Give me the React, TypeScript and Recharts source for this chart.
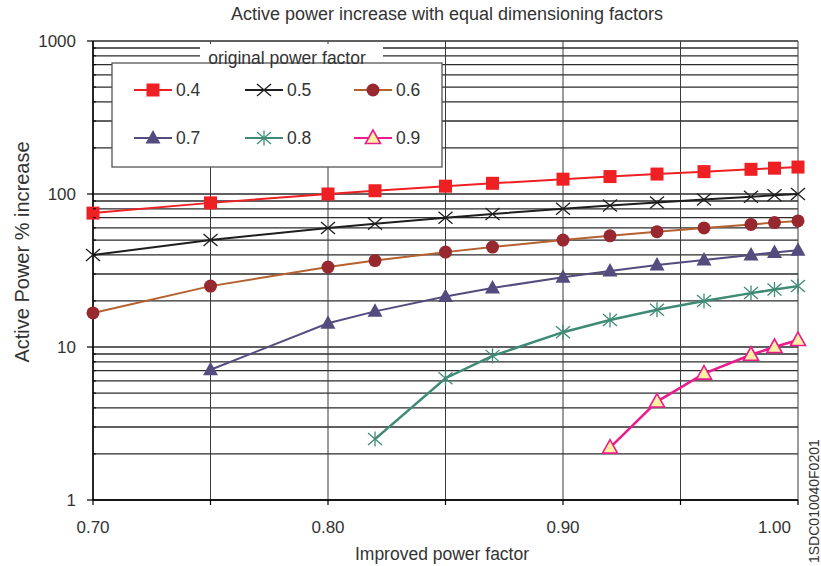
import React from 'react';
import { LineChart, Line, XAxis, YAxis, CartesianGrid } from 'recharts';

const improvedPF = [0.7, 0.75, 0.8, 0.82, 0.85, 0.87, 0.9, 0.92, 0.94, 0.96, 0.98, 0.99, 1.0];
const pf04 = [75, 87.5, 100, 105, 112.5, 117.5, 125, 130, 135, 140, 145, 147.5, 150];
const pf05 = [40, 50, 60, 64, 70, 74, 80, 84, 88, 92, 96, 98, 100];
const pf06 = [16.7, 25, 33.3, 36.7, 41.7, 45, 50, 53.3, 56.7, 60, 63.3, 65, 66.7];
const pf07 = [null, 7.1, 14.3, 17.1, 21.4, 24.3, 28.6, 31.4, 34.3, 37.1, 40, 41.4, 42.9];
const pf08 = [null, null, null, 2.5, 6.25, 8.75, 12.5, 15, 17.5, 20, 22.5, 23.75, 25];
const pf09 = [null, null, null, null, null, null, null, 2.2, 4.4, 6.7, 8.9, 10, 11.1];

const xTicks = [0.7, 0.75, 0.8, 0.85, 0.9, 0.95, 1.0];
const xTickLabels = ['0.70', '', '0.80', '', '0.90', '', '1.00'];
const yTicks = [1, 2, 3, 4, 5, 6, 7, 8, 9, 10, 20, 30, 40, 50, 60, 70, 80, 90, 100, 200, 300, 400, 500, 600, 700, 800, 900, 1000];
const yMajorTicks = [1, 10, 100, 1000];
const yTickLabels = ['1', '10', '100', '1000'];

const titleText = 'Active power increase with equal dimensioning factors';
const xAxisTitle = 'Improved power factor';
const yAxisTitle = 'Active Power % increase';
const legendTitle = 'original power factor';
const docCode = '1SDC010040F0201';

const series = [
  { key: 'pf04', name: '0.4', values: pf04, line: '#ee2024', mark: '#ee2024', fill: '#ee2024', shape: 'square', width: 2 },
  { key: 'pf05', name: '0.5', values: pf05, line: '#1e1e1e', mark: '#1e1e1e', fill: 'none', shape: 'cross', width: 2 },
  { key: 'pf06', name: '0.6', values: pf06, line: '#b4602f', mark: '#97282f', fill: '#97282f', shape: 'circle', width: 2 },
  { key: 'pf07', name: '0.7', values: pf07, line: '#544c7e', mark: '#544c7e', fill: '#544c7e', shape: 'triangle', width: 2 },
  { key: 'pf08', name: '0.8', values: pf08, line: '#3f8a76', mark: '#3f8a76', fill: 'none', shape: 'asterisk', width: 2.5 },
  { key: 'pf09', name: '0.9', values: pf09, line: '#eb1c8c', mark: '#eb1c8c', fill: '#fff1a4', shape: 'triangle', width: 2.5 },
];

const data = improvedPF.map((x, i) => {
  const row: any = { x };
  series.forEach((s) => {
    row[s.key] = s.values[i];
  });
  return row;
});

const FONT = '"Liberation Sans", Arial, Helvetica, sans-serif';
const TXT = '#333';

function Marker({ shape, cx, cy, mark, fill }: any) {
  if (shape === 'square') {
    return <rect x={cx - 6.5} y={cy - 6.5} width={13} height={13} fill={fill} stroke="none" />;
  }
  if (shape === 'cross') {
    return (
      <g stroke={mark} strokeWidth={1.3}>
        <line x1={cx - 7} y1={cy - 6} x2={cx + 7} y2={cy + 6} />
        <line x1={cx - 7} y1={cy + 6} x2={cx + 7} y2={cy - 6} />
      </g>
    );
  }
  if (shape === 'circle') {
    return <circle cx={cx} cy={cy} r={6.5} fill={fill} stroke="none" />;
  }
  if (shape === 'triangle') {
    const stroked = fill !== mark;
    return (
      <polygon
        points={`${cx},${cy - 8} ${cx - 7.5},${cy + 5.5} ${cx + 7.5},${cy + 5.5}`}
        fill={fill}
        stroke={stroked ? mark : 'none'}
        strokeWidth={stroked ? 1.6 : 0}
        strokeLinejoin="miter"
      />
    );
  }
  if (shape === 'asterisk') {
    return (
      <g stroke={mark} strokeWidth={1.3}>
        <line x1={cx} y1={cy - 7.5} x2={cx} y2={cy + 7.5} />
        <line x1={cx - 7} y1={cy - 6} x2={cx + 7} y2={cy + 6} />
        <line x1={cx - 7} y1={cy + 6} x2={cx + 7} y2={cy - 6} />
      </g>
    );
  }
  return null;
}

const makeDot = (s: any) => (props: any) => {
  const { cx, cy, index, value } = props;
  if (value === null || value === undefined || cx == null || cy == null || isNaN(cy)) {
    return <g key={`${s.key}-${index}`} />;
  }
  return (
    <g key={`${s.key}-${index}`}>
      <Marker shape={s.shape} cx={cx} cy={cy} mark={s.mark} fill={s.fill} />
    </g>
  );
};

const XTick = (props: any) => {
  const { x, y, payload } = props;
  const idx = xTicks.indexOf(payload.value);
  const label = idx >= 0 ? xTickLabels[idx] : '';
  const isLast = idx === xTicks.length - 1;
  return (
    <g>
      <line x1={x} x2={x} y1={y} y2={y + 5} stroke="#000" strokeWidth={1.2} />
      {label && (
        <text
          x={isLast ? x - 7 : x}
          y={y + 33}
          textAnchor={isLast ? 'end' : 'middle'}
          fontFamily={FONT}
          fontSize={17}
          fill={TXT}
        >
          {label}
        </text>
      )}
    </g>
  );
};

const YTick = (props: any) => {
  const { x, y, payload } = props;
  const idx = yMajorTicks.indexOf(payload.value);
  if (idx >= 0) {
    return (
      <g>
        <line x1={x - 6} x2={x} y1={y} y2={y} stroke="#000" strokeWidth={1.2} />
        <text x={x - 17} y={y} dy="0.36em" textAnchor="end" fontFamily={FONT} fontSize={17} fill={TXT}>
          {yTickLabels[idx]}
        </text>
      </g>
    );
  }
  return (
    <g>
      <line x1={x} x2={x + 3} y1={y} y2={y} stroke="#000" strokeWidth={1} />
    </g>
  );
};

const legendCols = [153, 264, 373];
const legendRows = [90, 138];

export default function App() {
  return (
    <div style={{ position: 'absolute', left: 0, top: 0, width: 821, height: 566, background: '#fff' }}>
      <LineChart width={821} height={566} data={data} margin={{ top: 41, right: 23, bottom: 36, left: 33 }}>
        <CartesianGrid vertical={false} stroke="#2b2b2b" strokeWidth={1.3} />
        <CartesianGrid horizontal={false} stroke="#3a3a3a" strokeWidth={1} />
        <XAxis
          dataKey="x"
          type="number"
          domain={[0.7, 1.0]}
          ticks={xTicks}
          interval={0}
          height={30}
          tickSize={0}
          tickMargin={0}
          tickLine={false}
          axisLine={{ stroke: '#000', strokeWidth: 1.5 }}
          tick={<XTick />}
        />
        <YAxis
          type="number"
          scale="log"
          domain={[1, 1000]}
          ticks={yTicks}
          interval={0}
          width={60}
          tickSize={0}
          tickMargin={0}
          tickLine={false}
          axisLine={{ stroke: '#000', strokeWidth: 1.5 }}
          tick={<YTick />}
        />
        {series.map((s) => (
          <Line
            key={s.key}
            dataKey={s.key}
            name={s.name}
            type="linear"
            stroke={s.line}
            strokeWidth={s.width}
            dot={makeDot(s)}
            activeDot={false}
            connectNulls={false}
            isAnimationActive={false}
          />
        ))}
      </LineChart>
      <svg
        width={821}
        height={566}
        style={{ position: 'absolute', left: 0, top: 0, pointerEvents: 'none' }}
      >
        <text x={447} y={20} textAnchor="middle" fontFamily={FONT} fontSize={18} fill={TXT}>
          {titleText}
        </text>
        <text x={442} y={560} textAnchor="middle" fontFamily={FONT} fontSize={17.5} fill={TXT}>
          {xAxisTitle}
        </text>
        <text
          x={29}
          y={252}
          textAnchor="middle"
          fontFamily={FONT}
          fontSize={20}
          fill={TXT}
          transform="rotate(-90, 29, 252)"
        >
          {yAxisTitle}
        </text>
        <text
          x={819}
          y={563}
          textAnchor="start"
          fontFamily={FONT}
          fontSize={14}
          fill={TXT}
          transform="rotate(-90, 819, 563)"
        >
          {docCode}
        </text>
        <rect x={200} y={44} width={183} height={19} fill="#fff" />
        <rect x={112} y={63} width={330} height={104} fill="#fff" stroke="#555" strokeWidth={1.3} />
        <text x={287} y={64} textAnchor="middle" fontFamily={FONT} fontSize={17.5} fill={TXT}>
          {legendTitle}
        </text>
        {series.map((s, i) => {
          const cx = legendCols[i % 3];
          const cy = legendRows[Math.floor(i / 3)];
          return (
            <g key={s.key}>
              <line x1={cx - 19} x2={cx + 19} y1={cy} y2={cy} stroke={s.line} strokeWidth={2} />
              <Marker shape={s.shape} cx={cx} cy={cy} mark={s.mark} fill={s.fill} />
              <text x={cx + 23} y={cy} dy="0.36em" fontFamily={FONT} fontSize={17.5} fill={TXT}>
                {s.name}
              </text>
            </g>
          );
        })}
      </svg>
    </div>
  );
}
